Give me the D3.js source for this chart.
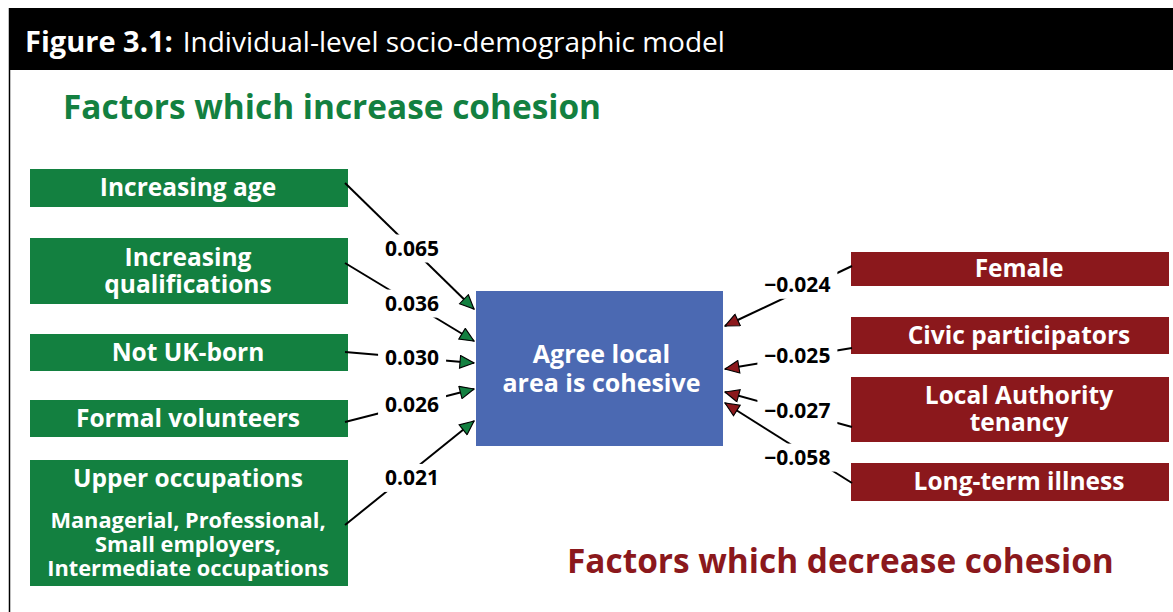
<!DOCTYPE html>
<html>
<head>
<meta charset="utf-8">
<script src="https://cdn.jsdelivr.net/npm/d3@7"></script>
<style>
  body { margin: 0; background: #fff; }
  svg { display: block; font-family: "Open Sans", "Noto Sans", sans-serif; }
</style>
</head>
<body>
<script>
// data
const increaseLabels = [
  ["Increasing age"],
  ["Increasing", "qualifications"],
  ["Not UK-born"],
  ["Formal volunteers"],
  ["Upper occupations"]
]
const increaseNotes = ["", "", "", "", "Managerial, Professional,|Small employers,|Intermediate occupations"]
const increaseValues = [0.065, 0.036, 0.030, 0.026, 0.021]

const decreaseLabels = [
  ["Female"],
  ["Civic participators"],
  ["Local Authority", "tenancy"],
  ["Long-term illness"]
]
const decreaseValues = [-0.024, -0.025, -0.027, -0.058]

const outcomeLabel = ["Agree local", "area is cohesive"]

// layout (box tops / heights in px)
const leftTops = [169, 238, 334, 400, 460]
const leftHeights = [38, 66, 37, 37, 126]
const leftFrom = [183, 263, 352, 422, 525]     // line start y at box edge
const leftTo = [309, 341, 363, 389, 421]       // arrow tip y at center box
const leftShift = [0, 0, 0, 0, 7]
const rightTops = [252, 317, 377, 463]
const rightHeights = [34, 37, 65, 38]
const rightFrom = [266, 348, 427, 483]
const rightTo = [326, 369, 392, 403]
const rightShift = [-7, -2, -1, 9]

const width = 1173, height = 612
const green = "#138040", red = "#8b181c", blue = "#4b69b2"
const fmt = d => (d < 0 ? "\u2212" : "") + d3.format(".3f")(Math.abs(d))

const svg = d3.select("body").append("svg")
  .attr("width", width).attr("height", height)

// multi-line text as one element with tspans
function multiText(g, lines, x, y0, step, size) {
  const t = g.append("text").attr("x", x).attr("y", y0).attr("text-anchor", "middle")
    .attr("fill", "#fff").attr("font-weight", "bold").style("font-size", size + "px")
  lines.forEach((l, k) => t.append("tspan").attr("x", x).attr("dy", k ? step : 0).text(l))
  return t
}

// frame + header
svg.append("rect").attr("x", 9).attr("y", 8).attr("width", width - 9).attr("height", 62).attr("fill", "#000")
svg.append("line").attr("x1", 9.5).attr("x2", 9.5).attr("y1", 8).attr("y2", height).attr("stroke", "#000").attr("stroke-width", 1.5)
const head = svg.append("text").attr("x", 25).attr("y", 52).attr("fill", "#fff").style("font-size", "28px")
head.append("tspan").attr("font-weight", "bold").style("font-size", "29px").text("Figure 3.1:")
head.append("tspan").attr("dx", 10).text("Individual-level socio-demographic model")

svg.append("text").attr("x", 63).attr("y", 119).attr("fill", green)
  .attr("font-weight", "bold").style("font-size", "33.4px").text("Factors which increase cohesion")
svg.append("text").attr("x", 567).attr("y", 573).attr("fill", red)
  .attr("font-weight", "bold").style("font-size", "33.4px").text("Factors which decrease cohesion")

const defs = svg.append("defs")
;[["g", green], ["r", red]].forEach(([id, c]) => {
  defs.append("marker").attr("id", "arr-" + id)
    .attr("viewBox", "0 0 10 10").attr("refX", 10).attr("refY", 5)
    .attr("markerUnits", "userSpaceOnUse")
    .attr("markerWidth", 16).attr("markerHeight", 14).attr("orient", "auto")
    .append("path").attr("d", "M0,0.5 L10,5 L0,9.5 Z")
    .attr("fill", c).attr("stroke", "#000").attr("stroke-width", 0.8)
})

// center box
const cx0 = 476, cx1 = 723, cy0 = 291, cy1 = 446
svg.append("rect").attr("x", cx0).attr("y", cy0).attr("width", cx1 - cx0).attr("height", cy1 - cy0).attr("fill", blue)
multiText(svg, outcomeLabel, (cx0 + cx1) / 2 + 2, 363, 29, 25)

// left side
const lx0 = 30, lx1 = 348
const left = svg.append("g").selectAll("g").data(increaseValues).join("g")
left.append("rect").attr("x", lx0).attr("y", (d, i) => leftTops[i])
  .attr("width", lx1 - lx0).attr("height", (d, i) => leftHeights[i]).attr("fill", green)
left.each(function (d, i) {
  const g = d3.select(this)
  const lines = increaseLabels[i]
  const notes = increaseNotes[i] ? increaseNotes[i].split("|") : []
  const mid = (lx0 + lx1) / 2 - 1
  if (notes.length) {
    multiText(g, lines, mid, leftTops[i] + 27, 27, 24.5)
    multiText(g, notes, mid, leftTops[i] + 68, 24, 21.8)
  } else {
    const c = leftTops[i] + leftHeights[i] / 2
    multiText(g, lines, mid, c + 8 - (lines.length - 1) / 2 * 27, 27, 24.5)
  }
  const x1 = lx1 - 3, y1 = leftFrom[i], x2 = cx0 - 2, y2 = leftTo[i]
  const t = 0.52, mx = x1 + (x2 - x1) * t, my = y1 + (y2 - y1) * t + leftShift[i]
  g.append("line").attr("x1", x1).attr("y1", y1).attr("x2", x2).attr("y2", y2)
    .attr("stroke", "#000").attr("stroke-width", 2).attr("marker-end", "url(#arr-g)")
  g.append("rect").attr("x", mx - 34).attr("y", my - 14).attr("width", 68).attr("height", 28).attr("fill", "#fff")
  g.append("text").attr("x", mx).attr("y", my + 7.5).attr("text-anchor", "middle")
    .attr("font-weight", "bold").style("font-size", "21px").attr("fill", "#000").text(fmt(d))
})

// right side
const rx0 = 851, rx1 = 1169
const right = svg.append("g").selectAll("g").data(decreaseValues).join("g")
right.append("rect").attr("x", rx0).attr("y", (d, i) => rightTops[i])
  .attr("width", rx1 - rx0).attr("height", (d, i) => rightHeights[i]).attr("fill", red)
right.each(function (d, i) {
  const g = d3.select(this)
  const lines = decreaseLabels[i]
  const c = rightTops[i] + rightHeights[i] / 2
  multiText(g, lines, 1019, c + 8 - (lines.length - 1) / 2 * 27, 27, 24.5)
  const x1 = rx0 + 1, y1 = rightFrom[i], x2 = cx1 + 2, y2 = rightTo[i]
  const t = 0.43, mx = x1 + (x2 - x1) * t, my = y1 + (y2 - y1) * t + rightShift[i]
  g.append("line").attr("x1", x1).attr("y1", y1).attr("x2", x2).attr("y2", y2)
    .attr("stroke", "#000").attr("stroke-width", 2).attr("marker-end", "url(#arr-r)")
  g.append("rect").attr("x", mx - 40).attr("y", my - 14).attr("width", 80).attr("height", 28).attr("fill", "#fff")
  g.append("text").attr("x", mx).attr("y", my + 7.5).attr("text-anchor", "middle")
    .attr("font-weight", "bold").style("font-size", "21px").attr("fill", "#000").text(fmt(d))
})
</script>
</body>
</html>
